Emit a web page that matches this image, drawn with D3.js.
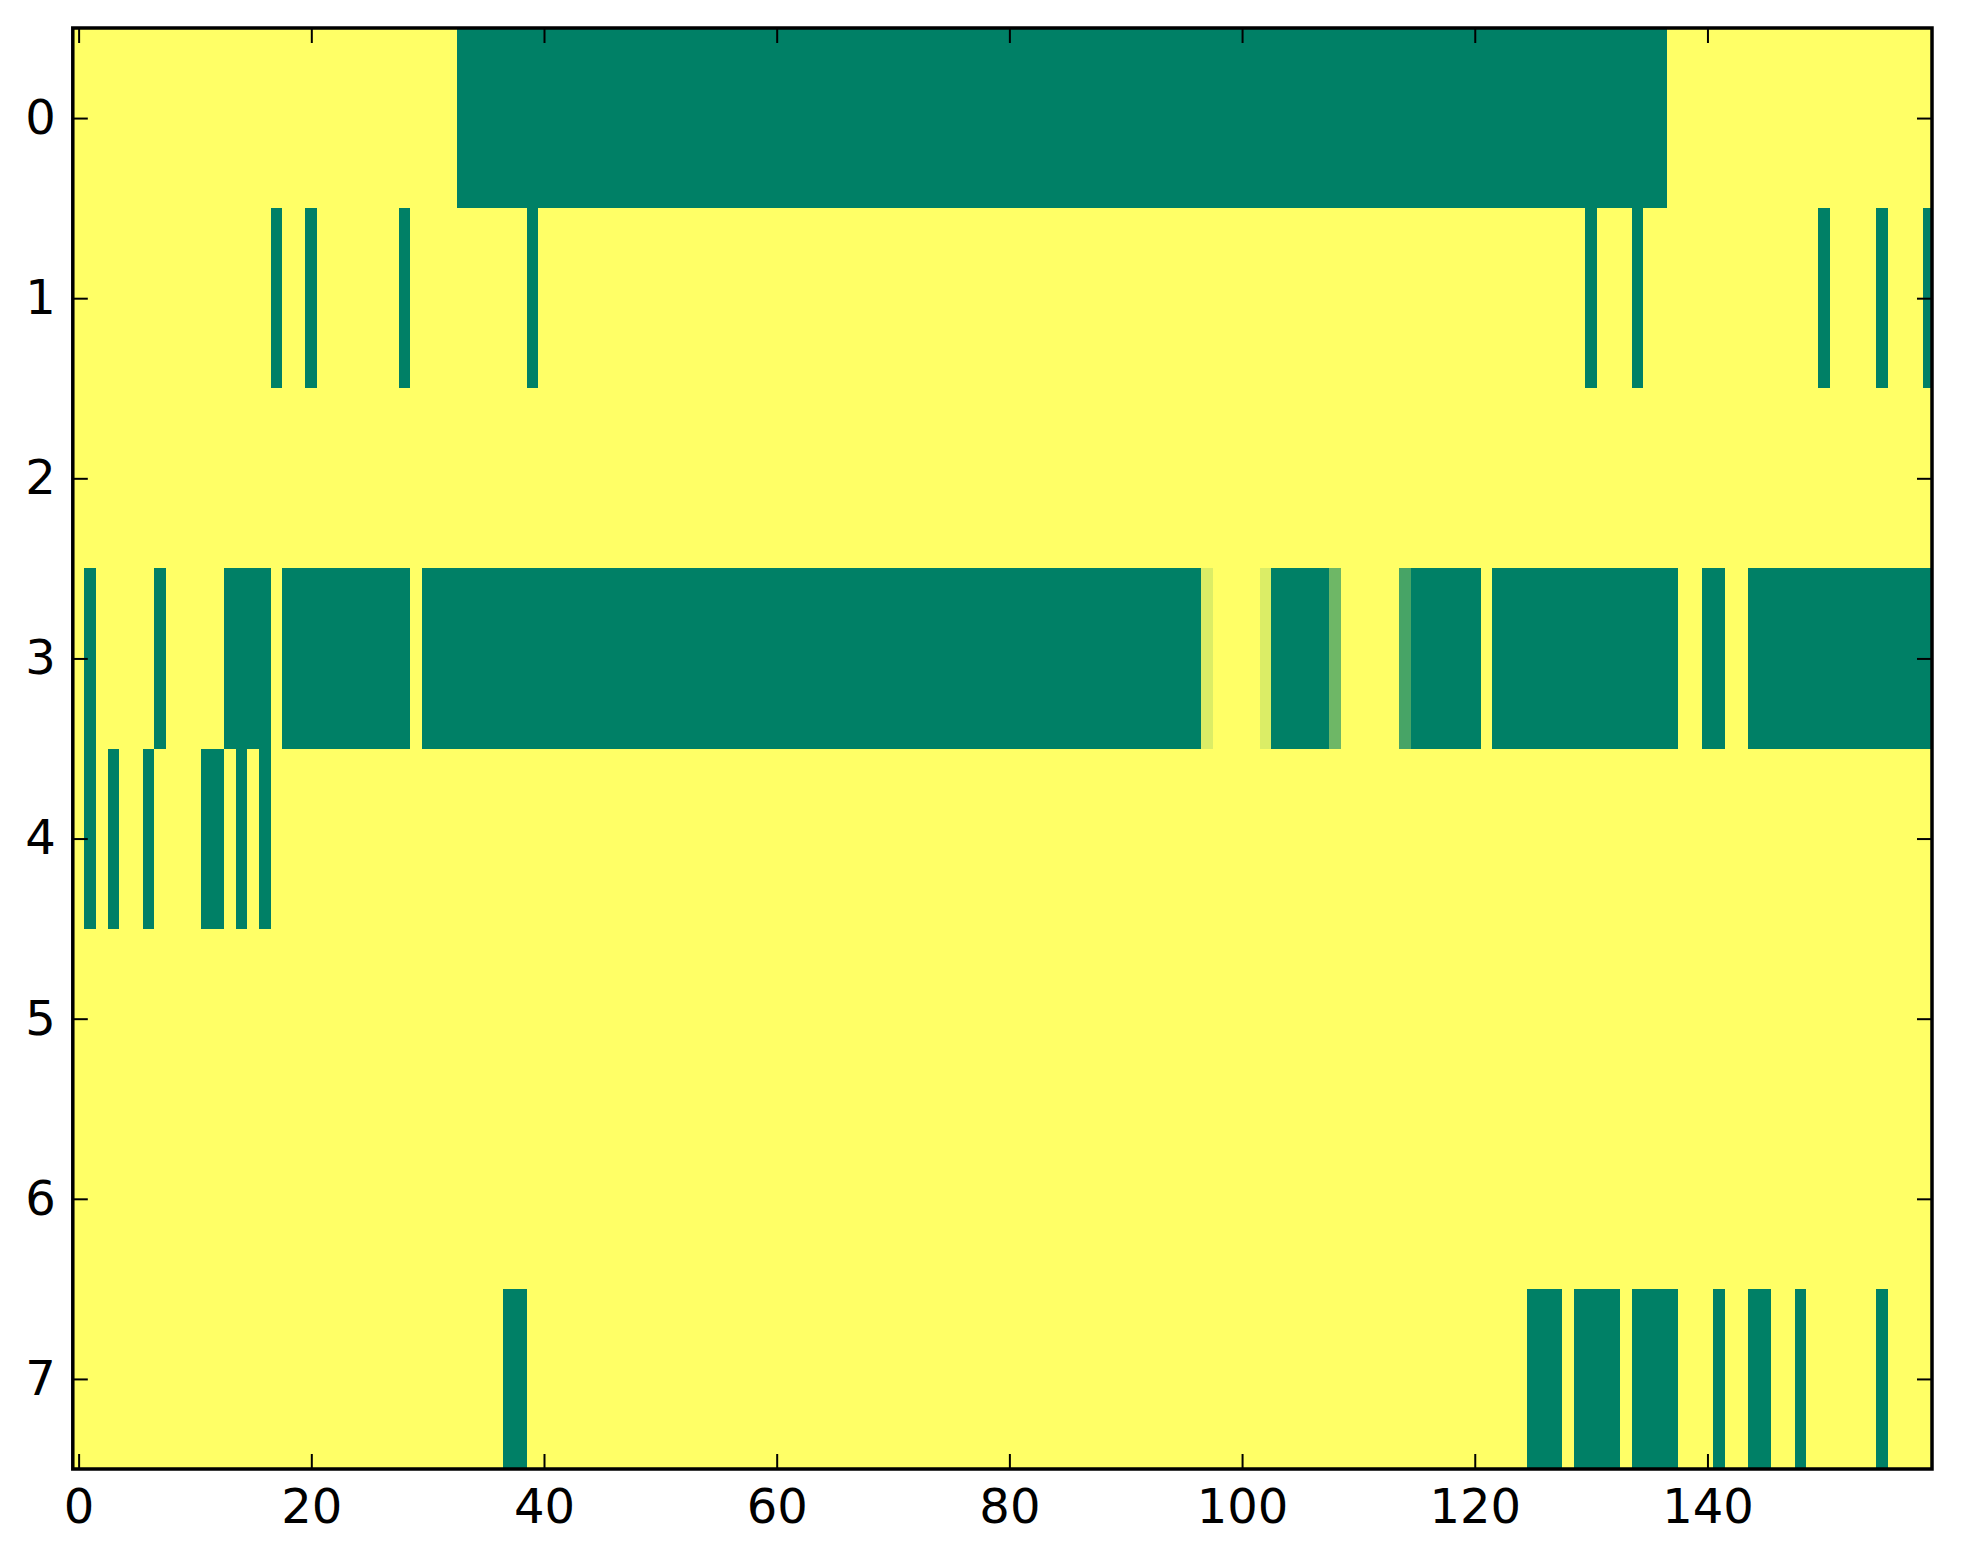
<!DOCTYPE html>
<html>
<head>
<meta charset="utf-8">
<script src="https://cdnjs.cloudflare.com/ajax/libs/d3/7.8.5/d3.min.js"></script>
<style>
  body { margin: 0; background: #fff; }
  svg { display: block; }
  .tick text { font-family: "DejaVu Sans", sans-serif; }
</style>
</head>
<body>
<svg id="chart" width="1963" height="1564"></svg>
<script>
// heatmap rows, one value per column (0 = yellow, 1 = green)
var row0 = [0,0,0,0,0,0,0,0,0,0,0,0,0,0,0,0,0,0,0,0,
            0,0,0,0,0,0,0,0,0,0,0,0,0,1,1,1,1,1,1,1,
            1,1,1,1,1,1,1,1,1,1,1,1,1,1,1,1,1,1,1,1,
            1,1,1,1,1,1,1,1,1,1,1,1,1,1,1,1,1,1,1,1,
            1,1,1,1,1,1,1,1,1,1,1,1,1,1,1,1,1,1,1,1,
            1,1,1,1,1,1,1,1,1,1,1,1,1,1,1,1,1,1,1,1,
            1,1,1,1,1,1,1,1,1,1,1,1,1,1,1,1,1,0,0,0,
            0,0,0,0,0,0,0,0,0,0,0,0,0,0,0,0,0,0,0,0];
var row1 = [0,0,0,0,0,0,0,0,0,0,0,0,0,0,0,0,0,1,0,0,
            1,0,0,0,0,0,0,0,1,0,0,0,0,0,0,0,0,0,0,1,
            0,0,0,0,0,0,0,0,0,0,0,0,0,0,0,0,0,0,0,0,
            0,0,0,0,0,0,0,0,0,0,0,0,0,0,0,0,0,0,0,0,
            0,0,0,0,0,0,0,0,0,0,0,0,0,0,0,0,0,0,0,0,
            0,0,0,0,0,0,0,0,0,0,0,0,0,0,0,0,0,0,0,0,
            0,0,0,0,0,0,0,0,0,0,1,0,0,0,1,0,0,0,0,0,
            0,0,0,0,0,0,0,0,0,0,1,0,0,0,0,1,0,0,0,1];
var row2 = [0,0,0,0,0,0,0,0,0,0,0,0,0,0,0,0,0,0,0,0,
            0,0,0,0,0,0,0,0,0,0,0,0,0,0,0,0,0,0,0,0,
            0,0,0,0,0,0,0,0,0,0,0,0,0,0,0,0,0,0,0,0,
            0,0,0,0,0,0,0,0,0,0,0,0,0,0,0,0,0,0,0,0,
            0,0,0,0,0,0,0,0,0,0,0,0,0,0,0,0,0,0,0,0,
            0,0,0,0,0,0,0,0,0,0,0,0,0,0,0,0,0,0,0,0,
            0,0,0,0,0,0,0,0,0,0,0,0,0,0,0,0,0,0,0,0,
            0,0,0,0,0,0,0,0,0,0,0,0,0,0,0,0,0,0,0,0];
var row3 = [0,1,0,0,0,0,0,1,0,0,0,0,0,1,1,1,1,0,1,1,
            1,1,1,1,1,1,1,1,1,0,1,1,1,1,1,1,1,1,1,1,
            1,1,1,1,1,1,1,1,1,1,1,1,1,1,1,1,1,1,1,1,
            1,1,1,1,1,1,1,1,1,1,1,1,1,1,1,1,1,1,1,1,
            1,1,1,1,1,1,1,1,1,1,1,1,1,1,1,1,1,0.14,0,0,
            0,0,0.14,1,1,1,1,1,0.57,0,0,0,0,0,0.72,1,1,1,1,1,
            1,0,1,1,1,1,1,1,1,1,1,1,1,1,1,1,1,1,0,0,
            1,1,0,0,1,1,1,1,1,1,1,1,1,1,1,1,1,1,1,1];
var row4 = [0,1,0,1,0,0,1,0,0,0,0,1,1,0,1,0,1,0,0,0,
            0,0,0,0,0,0,0,0,0,0,0,0,0,0,0,0,0,0,0,0,
            0,0,0,0,0,0,0,0,0,0,0,0,0,0,0,0,0,0,0,0,
            0,0,0,0,0,0,0,0,0,0,0,0,0,0,0,0,0,0,0,0,
            0,0,0,0,0,0,0,0,0,0,0,0,0,0,0,0,0,0,0,0,
            0,0,0,0,0,0,0,0,0,0,0,0,0,0,0,0,0,0,0,0,
            0,0,0,0,0,0,0,0,0,0,0,0,0,0,0,0,0,0,0,0,
            0,0,0,0,0,0,0,0,0,0,0,0,0,0,0,0,0,0,0,0];
var row5 = [0,0,0,0,0,0,0,0,0,0,0,0,0,0,0,0,0,0,0,0,
            0,0,0,0,0,0,0,0,0,0,0,0,0,0,0,0,0,0,0,0,
            0,0,0,0,0,0,0,0,0,0,0,0,0,0,0,0,0,0,0,0,
            0,0,0,0,0,0,0,0,0,0,0,0,0,0,0,0,0,0,0,0,
            0,0,0,0,0,0,0,0,0,0,0,0,0,0,0,0,0,0,0,0,
            0,0,0,0,0,0,0,0,0,0,0,0,0,0,0,0,0,0,0,0,
            0,0,0,0,0,0,0,0,0,0,0,0,0,0,0,0,0,0,0,0,
            0,0,0,0,0,0,0,0,0,0,0,0,0,0,0,0,0,0,0,0];
var row6 = [0,0,0,0,0,0,0,0,0,0,0,0,0,0,0,0,0,0,0,0,
            0,0,0,0,0,0,0,0,0,0,0,0,0,0,0,0,0,0,0,0,
            0,0,0,0,0,0,0,0,0,0,0,0,0,0,0,0,0,0,0,0,
            0,0,0,0,0,0,0,0,0,0,0,0,0,0,0,0,0,0,0,0,
            0,0,0,0,0,0,0,0,0,0,0,0,0,0,0,0,0,0,0,0,
            0,0,0,0,0,0,0,0,0,0,0,0,0,0,0,0,0,0,0,0,
            0,0,0,0,0,0,0,0,0,0,0,0,0,0,0,0,0,0,0,0,
            0,0,0,0,0,0,0,0,0,0,0,0,0,0,0,0,0,0,0,0];
var row7 = [0,0,0,0,0,0,0,0,0,0,0,0,0,0,0,0,0,0,0,0,
            0,0,0,0,0,0,0,0,0,0,0,0,0,0,0,0,0,1,1,0,
            0,0,0,0,0,0,0,0,0,0,0,0,0,0,0,0,0,0,0,0,
            0,0,0,0,0,0,0,0,0,0,0,0,0,0,0,0,0,0,0,0,
            0,0,0,0,0,0,0,0,0,0,0,0,0,0,0,0,0,0,0,0,
            0,0,0,0,0,0,0,0,0,0,0,0,0,0,0,0,0,0,0,0,
            0,0,0,0,0,1,1,1,0,1,1,1,1,0,1,1,1,1,0,0,
            0,1,0,0,1,1,0,0,1,0,0,0,0,0,0,1,0,0,0,0];
var rows = [row0, row1, row2, row3, row4, row5, row6, row7];

var xTicks = [0, 20, 40, 60, 80, 100, 120, 140];
var yTicks = [0, 1, 2, 3, 4, 5, 6, 7];

var plotL = 72.8, plotR = 1932, plotT = 28, plotB = 1469;

var svg = d3.select("#chart");

var x = d3.scaleLinear().domain([-0.5, 159.3]).range([plotL, plotR]);
var y = d3.scaleLinear().domain([-0.5, 7.5]).range([plotT, plotB]);
// summer_r colour map
var color = d3.scaleLinear().domain([0, 1]).range(["#ffff66", "#008066"]);

svg.append("defs").append("clipPath").attr("id", "clip")
    .append("rect")
    .attr("x", plotL).attr("y", plotT)
    .attr("width", plotR - plotL).attr("height", plotB - plotT);

var cells = [];
rows.forEach(function(r, i) {
    r.forEach(function(v, j) { cells.push({row: i, col: j, v: v}); });
});

svg.append("g").attr("clip-path", "url(#clip)")
    .selectAll("rect")
    .data(cells)
    .enter().append("rect")
    .attr("x", function(d) { return x(d.col - 0.5); })
    .attr("y", function(d) { return y(d.row - 0.5); })
    .attr("width", function(d) { return x(d.col + 0.5) - x(d.col - 0.5) + 0.5; })
    .attr("height", function(d) { return y(d.row + 0.5) - y(d.row - 0.5) + 0.5; })
    .attr("fill", function(d) { return color(d.v); })
    .attr("shape-rendering", "crispEdges");

function styleAxis(g) {
    g.select(".domain").remove();
    g.selectAll(".tick line").attr("stroke", "#000").attr("stroke-width", 2);
    g.selectAll(".tick text").attr("font-size", 48).attr("fill", "#000");
}

svg.append("g")
    .attr("transform", "translate(0," + plotB + ")")
    .call(d3.axisBottom(x).tickValues(xTicks).tickSize(-15).tickPadding(20))
    .call(styleAxis);
svg.append("g")
    .attr("transform", "translate(0," + plotT + ")")
    .call(d3.axisTop(x).tickValues(xTicks).tickSize(-15).tickFormat(""))
    .call(styleAxis);
svg.append("g")
    .attr("transform", "translate(" + plotL + ",0)")
    .call(d3.axisLeft(y).tickValues(yTicks).tickSize(-15).tickPadding(17))
    .call(styleAxis);
svg.append("g")
    .attr("transform", "translate(" + plotR + ",0)")
    .call(d3.axisRight(y).tickValues(yTicks).tickSize(-15).tickFormat(""))
    .call(styleAxis);

// frame
svg.append("rect")
    .attr("x", plotL).attr("y", plotT)
    .attr("width", plotR - plotL).attr("height", plotB - plotT)
    .attr("fill", "none")
    .attr("stroke", "#000")
    .attr("stroke-width", 3.5);
</script>
</body>
</html>
